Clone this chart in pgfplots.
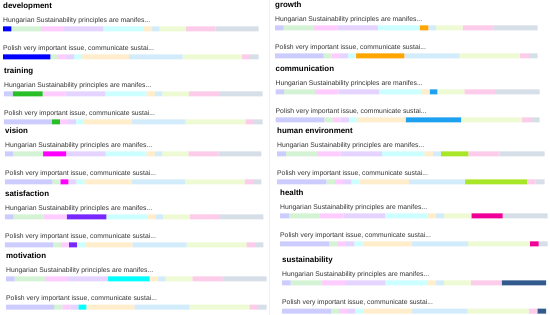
\documentclass[border=0pt]{standalone}
\usepackage{pgfplots}
\usepackage{pgfplotstable}
\usepackage{fontspec}
\setmainfont{Liberation Sans}
\pgfplotsset{compat=1.18}

\definecolor{c1}{RGB}{0,0,255}
\definecolor{c2}{RGB}{40,190,40}
\definecolor{c3}{RGB}{255,0,255}
\definecolor{c4}{RGB}{120,40,255}
\definecolor{c5}{RGB}{0,255,255}
\definecolor{c6}{RGB}{255,165,0}
\definecolor{c7}{RGB}{30,160,240}
\definecolor{c8}{RGB}{170,230,40}
\definecolor{c9}{RGB}{240,0,150}
\definecolor{c10}{RGB}{50,90,140}
\definecolor{labelgray}{RGB}{50,50,50}

% segment shares (percent) of the two respondents' bars
\pgfplotstableread{
y  s1   s2   s3   s4   s5   s6   s7   s8   s9   s10
0  3.3  11.6 8.9  15.4 15.9 3.3  2.9  10.2 11.7 16.8
28 18.5 3.1  3.1  3.1  3.1  18.4 21.0 23.1 3.3  3.3
}\datatable

\newcommand{\titlefont}{\fontsize{7.9}{8}\selectfont\bfseries}
\newcommand{\labelfont}{\fontsize{6.8}{7}\selectfont}

\newcommand{\pale}{%
  \colorlet{s1}{c1!20!white}\colorlet{s2}{c2!20!white}%
  \colorlet{s3}{c3!20!white}\colorlet{s4}{c4!20!white}%
  \colorlet{s5}{c5!20!white}\colorlet{s6}{c6!20!white}%
  \colorlet{s7}{c7!20!white}\colorlet{s8}{c8!20!white}%
  \colorlet{s9}{c9!20!white}\colorlet{s10}{c10!20!white}}

% #1 title, #2 highlighted segment, #3 x start, #4 bar width, #5 title y
\newcommand{\panel}[5]{%
  \pale\colorlet{s#2}{c#2}%
  \node[anchor=west,inner sep=0pt,font=\titlefont] at (#3pt,{-(#5)*1pt}) {#1};
  \node[anchor=west,inner sep=0pt,font=\labelfont,text=labelgray] at (#3pt,{-(#5+15)*1pt}) {Hungarian Sustainability principles are manifes...};
  \node[anchor=west,inner sep=0pt,font=\labelfont,text=labelgray] at (#3pt,{-(#5+43)*1pt}) {Polish very important issue, communicate sustai...};
  \begin{axis}[at={(#3pt,{-(#5+20)*1pt})},anchor=north west,
    scale only axis,width=#4pt,height=34pt,
    xmin=0,xmax=100,ymin=-3,ymax=31,y dir=reverse,
    hide axis,xbar stacked,bar width=5pt,clip=false]
    \addplot[fill=s1,draw=none] table[x=s1,y=y]{\datatable};
    \addplot[fill=s2,draw=none] table[x=s2,y=y]{\datatable};
    \addplot[fill=s3,draw=none] table[x=s3,y=y]{\datatable};
    \addplot[fill=s4,draw=none] table[x=s4,y=y]{\datatable};
    \addplot[fill=s5,draw=none] table[x=s5,y=y]{\datatable};
    \addplot[fill=s6,draw=none] table[x=s6,y=y]{\datatable};
    \addplot[fill=s7,draw=none] table[x=s7,y=y]{\datatable};
    \addplot[fill=s8,draw=none] table[x=s8,y=y]{\datatable};
    \addplot[fill=s9,draw=none] table[x=s9,y=y]{\datatable};
    \addplot[fill=s10,draw=none] table[x=s10,y=y]{\datatable};
  \end{axis}
}

\begin{document}
\begin{tikzpicture}
\useasboundingbox (0,0) rectangle (550pt,-315pt);
\draw[gray!12,line width=0.6pt] (269pt,0) -- (269pt,-315pt);
\panel{development}{1}{3}{255.5}{6}
\panel{training}{2}{4}{258.5}{71}
\panel{vision}{3}{5}{256.5}{131}
\panel{satisfaction}{4}{5}{258.5}{194}
\panel{motivation}{5}{6}{260.5}{256}
\panel{growth}{6}{275}{262.5}{5}
\panel{communication}{7}{275.5}{264}{69}
\panel{human environment}{8}{277}{267.5}{131}
\panel{health}{9}{280}{267.5}{193}
\panel{sustainability}{10}{282}{264}{260}
\end{tikzpicture}
\end{document}
